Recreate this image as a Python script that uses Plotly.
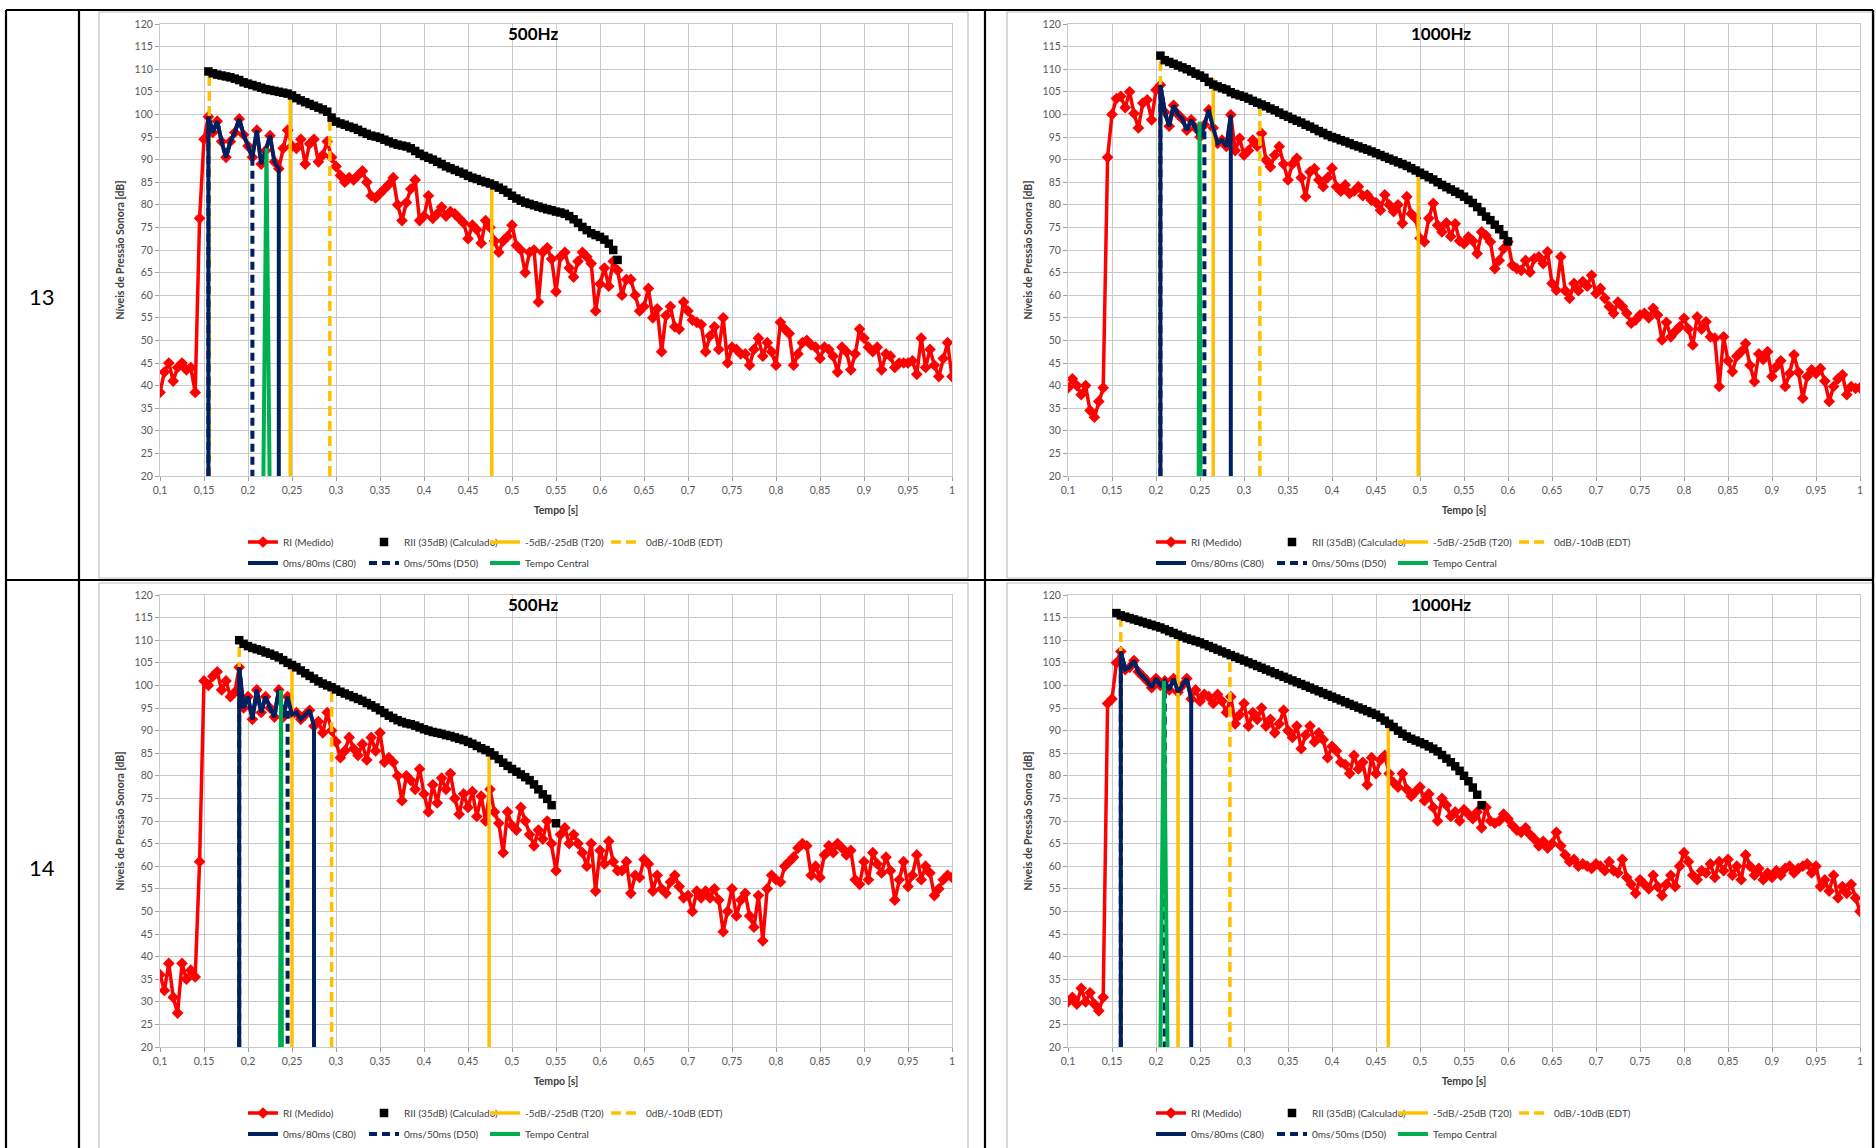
import plotly.graph_objects as go

W, H = 1876, 1148

# ---------------- data ----------------
T_START = 0.1
T_STEP = 0.005

# Row 13, 500 Hz : RI (Medido)
RI_13_500 = [
    38.5, 43, 45, 41, 44, 45, 43.5, 44, 38.5, 77,
    94.5, 99.5, 96, 98.5, 94, 90.5, 94, 96, 99, 95.5,
    93, 90.5, 96.5, 89, 92, 95.3, 89.5, 88, 92.5, 96.5,
    93, 92.5, 94.5, 89, 93.5, 94.5, 89.5, 91, 94, 90.5,
    88.5, 86.5, 85, 86, 85.5, 86.5, 87.5, 85, 82, 81.5,
    82.5, 83.5, 84.5, 86, 80, 76.5, 80.5, 83.5, 85.5, 76.5,
    77.5, 82, 77, 78, 79.5, 77.5, 78.5, 78, 77, 76,
    72.5, 75.5, 74.5, 71.5, 76.5, 75, 72, 69.5, 72, 73,
    75.5, 71, 70, 65, 69.5, 70, 58.5, 69.5, 70.5, 68,
    60.8, 68.5, 69.5, 66, 64, 67.5, 69.5, 68.5, 67, 56.5,
    62.5, 66, 62, 67.5, 65.5, 60, 63.5, 63.5, 60, 56.5,
    57.5, 61.5, 55, 57, 47.5, 55.5, 57.5, 53, 52.5, 58.5,
    56.5, 54.5, 54, 53.5, 47.5, 51, 53, 48, 55, 45,
    48.5, 48, 47, 47, 44.5, 48, 50.5, 46.5, 49.5, 47.5,
    44.5, 54, 52.5, 51.5, 44.5, 47, 49.5, 50, 49, 48.5,
    46, 48.5, 48, 46.5, 43, 48.5, 47.5, 43.5, 47, 52.5,
    50.5, 48.5, 47.5, 48.5, 43.5, 47, 46.5, 44, 45, 45,
    45, 45.5, 42.5, 50.5, 44, 48, 44.5, 42, 46, 49.5,
    42,
]
RII_13_500_START = 0.155
RII_13_500 = [
    109.5, 109.1, 108.8, 108.6, 108.4, 108.2, 107.9, 107.6, 107.1, 106.8,
    106.5, 106.2, 105.9, 105.6, 105.4, 105.2, 105.0, 104.8, 104.6, 104.2,
    103.6, 103.1, 102.7, 102.3, 101.9, 101.5, 101.1, 100.6, 99.3, 98.4,
    98.0, 97.7, 97.3, 97.0, 96.6, 96.1, 95.7, 95.3, 95.1, 94.8,
    94.4, 94.0, 93.6, 93.3, 93.1, 92.9, 92.5, 91.9, 91.3, 90.8,
    90.4, 90.0, 89.5, 89.0, 88.5, 88.1, 87.7, 87.3, 86.9, 86.4,
    86.0, 85.7, 85.3, 85.0, 84.7, 84.3, 83.8, 83.3, 82.7, 82.0,
    81.4, 80.9, 80.5, 80.2, 79.9, 79.6, 79.3, 79.0, 78.8, 78.5,
    78.3, 78.0, 77.5, 76.8, 76.0, 75.1, 74.4, 73.7, 73.3, 72.9,
    72.3, 71.4, 70.0, 67.8,
]

# Row 13, 1000 Hz
RI_13_1000 = [
    39.5, 41.5, 40, 38, 40, 34.5, 33, 36.5, 39.5, 90.5,
    100, 103.5, 104, 101.5, 105, 100.2, 97, 102.5, 103.2, 98.8,
    105.4, 106.5, 100.5, 97.4, 102, 100, 99, 96.5, 98.8, 97,
    95, 97.7, 101, 97, 93.6, 94.3, 92.9, 99.9, 92, 94.7,
    91, 92, 94.3, 93, 95.8, 89.9, 88.4, 91, 92.9, 89,
    85.5, 89, 90.3, 86, 81.8, 87.3, 88, 85.5, 84, 86,
    88.1, 84, 83, 84.4, 82.5, 83, 84, 82, 82.2, 81,
    80.5, 78.8, 82.2, 80, 78.5, 80, 75.9, 81.8, 78, 77,
    72.6, 71.8, 77, 80.3, 75.5, 74, 76, 73, 75.8, 72,
    71.4, 72.9, 72, 69.2, 74, 73.2, 71.8, 65.9, 67.7, 70.3,
    71.8, 66.6, 65.9, 65.5, 67.7, 65.1, 68.1, 68.5, 67, 69.6,
    62.6, 61.1, 68.5, 61, 59.3, 62.6, 61, 63, 62, 64.4,
    60.4, 61.5, 59.3, 57.5, 56, 58.5, 57.5, 56, 53.8, 54.5,
    55.6, 56, 55, 57.1, 55.6, 50.1, 54, 50.8, 52, 53,
    54.9, 52.5, 49, 55.2, 52.5, 54.1, 50.8, 50.5, 39.8, 50.8,
    45.5, 43.1, 46.5, 47.5, 49.3, 44.5, 40.9, 47, 45.8, 47.5,
    42, 44.2, 45.5, 39.8, 42.7, 46.8, 43, 37.2, 42, 43.5,
    42.7, 43.8, 41, 36.5, 39.8, 41.5, 42.4, 38, 39.8, 39.4,
    39.5,
]
RII_13_1000_START = 0.205
RII_13_1000 = [
    113.0, 112.0, 111.6, 111.2, 110.8, 110.4, 110.0, 109.5, 109.0, 108.6,
    108.1, 107.2, 106.6, 106.2, 105.8, 105.5, 104.9, 104.5, 104.2, 103.9,
    103.5, 103.0, 102.6, 102.2, 101.8, 101.3, 100.9, 100.4, 99.9, 99.5,
    99.0, 98.6, 98.2, 97.7, 97.3, 96.8, 96.3, 95.9, 95.4, 95.0,
    94.7, 94.3, 94.0, 93.6, 93.2, 92.9, 92.5, 92.2, 91.8, 91.4,
    91.0, 90.6, 90.2, 89.8, 89.4, 89.0, 88.6, 88.1, 87.6, 87.1,
    86.6, 86.1, 85.6, 85.0, 84.4, 83.9, 83.4, 82.9, 82.4, 81.8,
    81.1, 80.4, 79.5, 78.5, 77.4, 76.6, 75.6, 74.6, 73.3, 71.9,
]

# Row 14, 500 Hz
RI_14_500 = [
    36, 32.5, 38.5, 31, 27.5, 38.5, 35, 37, 35.5, 61,
    101, 100, 102, 103, 99, 101, 97.5, 98.5, 104, 95,
    97.5, 92.5, 99, 94, 97.5, 95, 93, 99, 93, 97.5,
    93.5, 94, 92.5, 93.5, 94.5, 91, 92, 89.5, 94, 90,
    87.5, 84, 85.5, 88.5, 86, 84.5, 87, 83.5, 88.5, 85.5,
    89.5, 83, 84, 83, 80, 74.5, 80, 79, 77, 81.5,
    76, 72, 78, 74, 79.5, 77, 80.5, 75, 71.5, 76,
    73, 76.5, 71, 75.5, 70, 77, 72, 69.5, 63, 72,
    69, 68, 73, 70, 67, 64.5, 68, 66, 70, 65,
    59, 67, 68.5, 65, 67, 65, 63, 60, 65, 54.5,
    63.5, 60.5, 65.5, 61, 59, 59, 61, 54, 58, 57.5,
    61.5, 60.5, 54.5, 58, 55, 54, 56.5, 58, 55.5, 53,
    53.5, 50, 54.5, 53, 54.5, 53, 55, 52.5, 45.5, 50,
    55, 49, 52.5, 54, 49, 46.5, 53.5, 43.5, 55, 58,
    57, 56.5, 60, 61, 62, 64, 65, 64.5, 58, 60,
    57.5, 62.5, 64.5, 63, 65, 64, 62.5, 63.5, 57, 56,
    61, 57, 63, 60.5, 58.5, 62, 59, 52.5, 57, 61,
    55.5, 58, 62.5, 57, 60, 58.5, 53.5, 55, 57, 58,
    57.5,
]
RII_14_500_START = 0.19
RII_14_500 = [
    110.0, 109.2, 108.7, 108.3, 108.0, 107.7, 107.3, 107.0, 106.6, 106.2,
    105.6, 105.0, 104.5, 104.0, 103.3, 102.7, 102.1, 101.5, 100.9, 100.4,
    100.0, 99.6, 99.1, 98.6, 98.2, 97.8, 97.4, 97.0, 96.6, 96.1,
    95.6, 95.1, 94.5, 93.9, 93.3, 92.8, 92.3, 91.9, 91.6, 91.4,
    91.1, 90.7, 90.3, 90.0, 89.7, 89.5, 89.3, 89.0, 88.8, 88.5,
    88.2, 87.9, 87.5, 87.1, 86.6, 86.1, 85.7, 85.2, 84.5, 83.7,
    82.9, 82.2, 81.5, 80.9, 80.3, 79.7, 79.0, 78.1, 77.0, 75.9,
    74.9, 73.5, 69.5,
]

# Row 14, 1000 Hz
RI_14_1000 = [
    30, 31, 29.5, 33, 30, 32, 29.5, 28, 31, 96,
    97, 105, 107.5, 103.5, 104, 105.5, 103, 102, 101, 99.5,
    101.5, 100, 101, 99, 101.5, 98.5, 100, 101.5, 97, 99,
    96.5, 98, 97.5, 96, 98, 96.5, 94, 97.5, 91.5, 93.5,
    96, 91, 94, 92.5, 95, 91, 92.5, 89.5, 91.5, 94.5,
    90, 88.5, 91, 86, 89, 91, 87.5, 89.5, 88, 84,
    86.5, 85.5, 83, 82.5, 80.5, 84.5, 81.5, 83, 78, 84,
    80.5, 83.5, 84.5, 80.5, 78.5, 77.5, 80.5, 77, 75.5, 76.5,
    77.5, 74.5, 76, 73, 70, 75, 73.5, 71, 72, 70,
    72.5, 71.5, 70.5, 72, 68.5, 73, 70, 69.5, 70, 71.5,
    70.5, 69, 68, 67.5, 68.5, 67, 66, 64.5, 65.5, 64,
    65, 67.5, 64.5, 62.5, 61, 61.5, 60, 60.5, 60, 59.5,
    60.5, 60, 59, 61, 59, 58.5, 61.5, 57.5, 56, 54,
    57, 56, 55, 58, 55.5, 53.5, 56, 58, 55.5, 60,
    63, 61, 58, 57, 59, 58.5, 60.5, 57.5, 61, 59,
    61.5, 58, 60, 57, 62.5, 60, 58, 59.5, 57, 58.5,
    57.5, 59, 58, 59.5, 60, 58.5, 59.5, 60, 60.5, 58.5,
    60, 55.5, 57, 54.5, 58, 53, 55.5, 54, 56, 53,
    50,
]
RII_14_1000_START = 0.155
RII_14_1000 = [
    116.0, 115.5, 115.2, 114.9, 114.6, 114.3, 114.0, 113.7, 113.4, 113.1,
    112.8, 112.4, 112.0, 111.6, 111.2, 110.8, 110.4, 110.1, 109.8, 109.5,
    109.1, 108.7, 108.3, 107.9, 107.5, 107.1, 106.7, 106.3, 105.9, 105.5,
    105.1, 104.7, 104.3, 103.9, 103.5, 103.1, 102.7, 102.3, 101.9, 101.5,
    101.1, 100.7, 100.3, 99.9, 99.5, 99.1, 98.7, 98.3, 97.9, 97.5,
    97.1, 96.7, 96.3, 95.9, 95.5, 95.1, 94.7, 94.3, 93.9, 93.5,
    92.9, 92.2, 91.5, 90.8, 90.0, 89.3, 88.7, 88.2, 87.8, 87.4,
    87.0, 86.5, 86.0, 85.4, 84.6, 83.8, 83.0, 82.1, 81.1, 80.0,
    78.8, 77.4, 75.8, 73.5,
]

# Parameter markers: (time, level) pairs
T20_13_500 = [(0.248, 104.5), (0.477, 84.5)]
EDT_13_500 = [(0.156, 109.5), (0.293, 99.5)]
C80_13_500 = (0.155, 0.235)
D50_13_500 = (0.155, 0.205)
TC_13_500 = ([0.2175, 0.221, 0.2245], [20, 92.5, 20])

T20_13_1000 = [(0.265, 108.0), (0.498, 88.0)]
EDT_13_1000 = [(0.205, 113.0), (0.318, 103.0)]
C80_13_1000 = (0.205, 0.285)
D50_13_1000 = (0.205, 0.255)
TC_13_1000 = ([0.2485, 0.2495, 0.2505], [20, 98.4, 20])

T20_14_500 = [(0.25, 105.0), (0.474, 85.0)]
EDT_14_500 = [(0.19, 110.0), (0.295, 100.0)]
C80_14_500 = (0.19, 0.275)
D50_14_500 = (0.19, 0.245)
TC_14_500 = ([0.2365, 0.2375, 0.2385], [20, 99.0, 20])

T20_14_1000 = [(0.225, 111.0), (0.464, 91.0)]
EDT_14_1000 = [(0.16, 116.0), (0.284, 106.0)]
C80_14_1000 = (0.16, 0.24)
D50_14_1000 = (0.16, 0.21)
TC_14_1000 = ([0.205, 0.209, 0.213], [20, 101.0, 20])

ROW_LABELS = ["13", "14"]
CHART_TITLES = ["500Hz", "1000Hz", "500Hz", "1000Hz"]

X_TICK_VALS = [0.1, 0.15, 0.2, 0.25, 0.3, 0.35, 0.4, 0.45, 0.5, 0.55,
               0.6, 0.65, 0.7, 0.75, 0.8, 0.85, 0.9, 0.95, 1.0]
X_TICK_TEXT = ["0,1", "0,15", "0,2", "0,25", "0,3", "0,35", "0,4", "0,45", "0,5", "0,55",
               "0,6", "0,65", "0,7", "0,75", "0,8", "0,85", "0,9", "0,95", "1"]
Y_TICK_VALS = [20, 25, 30, 35, 40, 45, 50, 55, 60, 65, 70, 75, 80, 85, 90, 95, 100, 105, 110, 115, 120]
Y_TICK_TEXT = [str(v) for v in Y_TICK_VALS]

SERIES_NAMES = ["RI (Medido)", "RII (35dB) (Calculado)", "-5dB/-25dB (T20)", "0dB/-10dB (EDT)",
                "0ms/80ms (C80)", "0ms/50ms (D50)", "Tempo Central"]

X_TITLE = "Tempo [s]"
Y_TITLE = "Níveis de Pressão Sonora [dB]"

# ---------------- style ----------------
RED = "#FF0000"
BLACK = "#000000"
YELLOW = "#FFC000"
NAVY = "#002060"
GREEN = "#00B050"
GRID = "#C9C9C9"
FONT = "Lato, 'Liberation Sans', sans-serif"

charts = [
    dict(ri=RI_13_500, rii=RII_13_500, rii0=RII_13_500_START, t20=T20_13_500, edt=EDT_13_500,
         c80=C80_13_500, d50=D50_13_500, tc=TC_13_500),
    dict(ri=RI_13_1000, rii=RII_13_1000, rii0=RII_13_1000_START, t20=T20_13_1000, edt=EDT_13_1000,
         c80=C80_13_1000, d50=D50_13_1000, tc=TC_13_1000),
    dict(ri=RI_14_500, rii=RII_14_500, rii0=RII_14_500_START, t20=T20_14_500, edt=EDT_14_500,
         c80=C80_14_500, d50=D50_14_500, tc=TC_14_500),
    dict(ri=RI_14_1000, rii=RII_14_1000, rii0=RII_14_1000_START, t20=T20_14_1000, edt=EDT_14_1000,
         c80=C80_14_1000, d50=D50_14_1000, tc=TC_14_1000),
]

# pixel geometry of the four panels (plot areas)
PLOT_X = [(160, 952), (1068, 1860), (160, 952), (1068, 1860)]
PLOT_Y = [(24, 476), (24, 476), (595, 1047), (595, 1047)]
FRAME_X = [(99, 968), (1007, 1874), (99, 968), (1007, 1874)]
FRAME_Y = [(12, 578), (12, 578), (583, 1160), (583, 1160)]


def fx(px):
    return px / W


def fy(py):
    return 1 - py / H


def times(start, n):
    return [round(start + T_STEP * i, 4) for i in range(n)]


def idx(t):
    return int(round((t - T_START) / T_STEP))


fig = go.Figure()

for k, c in enumerate(charts):
    sfx = "" if k == 0 else str(k + 1)
    xa, ya = "x" + sfx, "y" + sfx
    lg1 = "legend" if k == 0 else f"legend{2 * k + 1}"
    lg2 = f"legend{2 * k + 2}"
    t = times(T_START, len(c["ri"]))

    # RI (Medido)
    fig.add_trace(go.Scatter(
        x=t, y=c["ri"], mode="lines+markers", name=SERIES_NAMES[0],
        line=dict(color=RED, width=3.5), marker=dict(symbol="diamond", size=9, color=RED),
        xaxis=xa, yaxis=ya, legend=lg1, legendrank=1))

    # T20 verticals
    xs, ys = [], []
    for tt, lv in c["t20"]:
        xs += [tt, tt, None]
        ys += [20, lv, None]
    fig.add_trace(go.Scatter(x=xs, y=ys, mode="lines", name=SERIES_NAMES[2],
                             line=dict(color=YELLOW, width=3.5),
                             xaxis=xa, yaxis=ya, legend=lg1, legendrank=3))
    # EDT verticals
    xs, ys = [], []
    for tt, lv in c["edt"]:
        xs += [tt, tt, None]
        ys += [20, lv, None]
    fig.add_trace(go.Scatter(x=xs, y=ys, mode="lines", name=SERIES_NAMES[3],
                             line=dict(color=YELLOW, width=3.5, dash="10px,5px"),
                             xaxis=xa, yaxis=ya, legend=lg1, legendrank=4))

    # C80 window
    a, b = idx(c["c80"][0]), idx(c["c80"][1])
    fig.add_trace(go.Scatter(
        x=[t[a]] + t[a:b + 1] + [t[b]], y=[20] + c["ri"][a:b + 1] + [20],
        mode="lines", name=SERIES_NAMES[4], line=dict(color=NAVY, width=4),
        xaxis=xa, yaxis=ya, legend=lg2, legendrank=1))
    # D50 window
    a, b = idx(c["d50"][0]), idx(c["d50"][1])
    fig.add_trace(go.Scatter(
        x=[t[a]] + t[a:b + 1] + [t[b]], y=[20] + c["ri"][a:b + 1] + [20],
        mode="lines", name=SERIES_NAMES[5], line=dict(color=NAVY, width=4, dash="8px,5px"),
        xaxis=xa, yaxis=ya, legend=lg2, legendrank=2))
    # Tempo Central
    fig.add_trace(go.Scatter(
        x=c["tc"][0], y=c["tc"][1], mode="lines", name=SERIES_NAMES[6],
        line=dict(color=GREEN, width=4),
        xaxis=xa, yaxis=ya, legend=lg2, legendrank=3))

    # RII (Calculado) on top
    fig.add_trace(go.Scatter(
        x=times(c["rii0"], len(c["rii"])), y=c["rii"], mode="markers", name=SERIES_NAMES[1],
        marker=dict(symbol="square", size=8.5, color=BLACK),
        xaxis=xa, yaxis=ya, legend=lg1, legendrank=2))

layout = dict(
    width=W, height=H, margin=dict(l=0, r=0, t=0, b=0, autoexpand=False),
    paper_bgcolor="white", plot_bgcolor="white",
    font=dict(family=FONT, color="#595959", size=11),
    showlegend=True,
)

shapes = []
annotations = []
for k in range(4):
    sfx = "" if k == 0 else str(k + 1)
    (x0, x1), (y0, y1) = PLOT_X[k], PLOT_Y[k]
    axis_common = dict(showgrid=True, gridcolor=GRID, gridwidth=1, zeroline=False,
                       showline=True, linecolor=GRID, linewidth=1, mirror=True,
                       ticks="outside", ticklen=4, tickcolor="#A0A0A0",
                       tickfont=dict(family=FONT, size=10.5, color="#595959"), fixedrange=True)
    layout["xaxis" + sfx] = dict(
        domain=[fx(x0), fx(x1)], range=[0.1, 1.0], anchor="y" + sfx,
        tickmode="array", tickvals=X_TICK_VALS, ticktext=X_TICK_TEXT,
        title=dict(text=X_TITLE, standoff=12,
                   font=dict(family=FONT, size=10.5, color="#404040", weight="bold")),
        **axis_common)
    layout["yaxis" + sfx] = dict(
        domain=[fy(y1), fy(y0)], range=[20, 120], anchor="x" + sfx,
        tickmode="array", tickvals=Y_TICK_VALS, ticktext=Y_TICK_TEXT,
        title=dict(text=Y_TITLE, standoff=7,
                   font=dict(family=FONT, size=10.5, color="#404040", weight="bold")),
        **axis_common)

    # chart frame
    fx0, fx1 = FRAME_X[k]
    fy0, fy1 = FRAME_Y[k]
    shapes.append(dict(type="rect", xref="paper", yref="paper",
                       x0=fx(fx0), x1=fx(fx1), y0=fy(fy1), y1=fy(fy0),
                       line=dict(color="#BFBFBF", width=1.2), layer="below"))
    # chart title
    annotations.append(dict(text=CHART_TITLES[k], xref="paper", yref="paper",
                            x=fx((fx0 + fx1) / 2), y=fy(y0 + 10), xanchor="center", yanchor="middle",
                            showarrow=False,
                            font=dict(family=FONT, size=17, color="#000000", weight="bold")))

    # legends (two rows per chart)
    lx = PLOT_X[k][0] + 83
    ly1 = PLOT_Y[k][1] + 66
    ly2 = PLOT_Y[k][1] + 87
    leg_common = dict(orientation="h", xanchor="left", yanchor="middle", entrywidth=76,
                      bgcolor="rgba(0,0,0,0)", borderwidth=0, itemwidth=30,
                      font=dict(family=FONT, size=10, color="#404040"))
    name1 = "legend" if k == 0 else f"legend{2 * k + 1}"
    name2 = f"legend{2 * k + 2}"
    layout[name1] = dict(x=fx(lx), y=fy(ly1), **leg_common)
    layout[name2] = dict(x=fx(lx), y=fy(ly2), **leg_common)

# table lines
TL = dict(color="#000000", width=2.2)
for (x0, y0, x1, y1) in [(6, 10, 1873, 10), (6, 10, 6, 1148), (79, 10, 79, 1148),
                         (985, 10, 985, 1148), (1873, 10, 1873, 1148), (6, 580, 1873, 580)]:
    shapes.append(dict(type="line", xref="paper", yref="paper",
                       x0=fx(x0), x1=fx(x1), y0=fy(y0), y1=fy(y1), line=TL))

for lbl, yy in zip(ROW_LABELS, [296, 867]):
    annotations.append(dict(text=lbl, xref="paper", yref="paper", x=fx(42), y=fy(yy),
                            xanchor="center", yanchor="middle", showarrow=False,
                            font=dict(family=FONT, size=22, color="#000000")))

layout["shapes"] = shapes
layout["annotations"] = annotations
fig.update_layout(**layout)

PAGE_FIX = (
    "var s=document.createElement('style');"
    "s.innerHTML='html,body{margin:0!important;padding:0!important;overflow:hidden!important;}';"
    "document.head.appendChild(s);"
    "var d=document.querySelector('.plotly-graph-div');"
    "if(d){d.style.position='fixed';d.style.left='0px';d.style.top='0px';}"
)

fig.write_html("out.html", config={"displayModeBar": False}, post_script=PAGE_FIX)
